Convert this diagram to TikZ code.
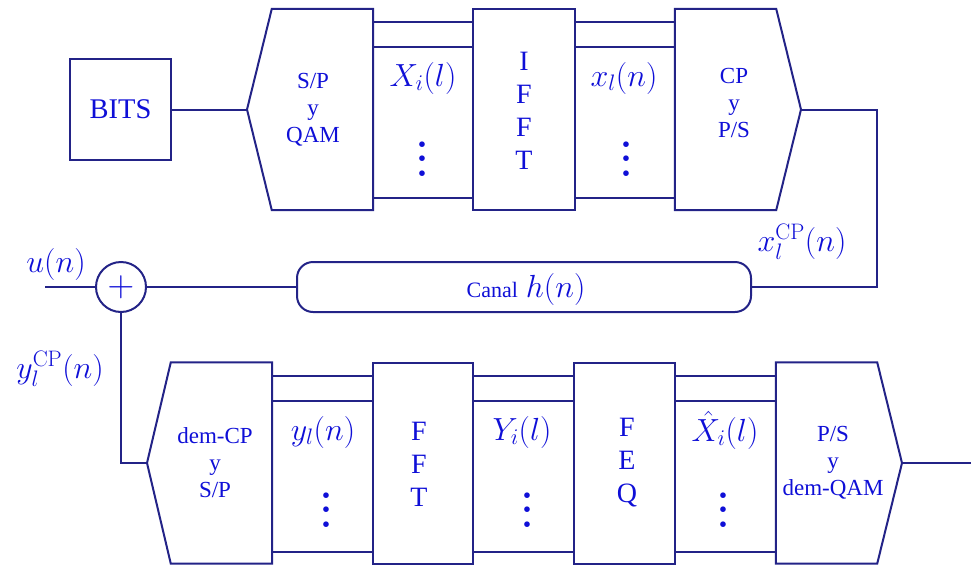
\RequirePackage{fix-cm}
\documentclass[tikz,border=0pt]{standalone}
\usepackage[no-math]{fontspec}
\setmainfont{Liberation Serif}
\definecolor{wirec}{RGB}{35,35,135}
\definecolor{inkc}{RGB}{15,15,215}
% three stacked dots marking the remaining bus lines
\newcommand{\chdots}{\scalebox{3.6}{\usefont{OT1}{cmr}{bx}{n}%
  \vbox{\baselineskip4pt\lineskiplimit0pt\hbox{.}\hbox{.}\hbox{.}}}}
\begin{document}
\begin{tikzpicture}[x=1pt,y=-1pt,
  wire/.style={draw=wirec, line width=2pt},
  blockbox/.style={wire, rectangle, inner sep=0pt, minimum width=#1, minimum height=201pt},
  ghostbox/.style={rectangle, inner sep=0pt, minimum width=#1, minimum height=201pt},
  lbl/.style={text=inkc, inner sep=0pt, align=center},
  small/.style={lbl, font=\fontsize{23}{27}\selectfont},
  tall/.style={lbl, font=\fontsize{28}{33}\selectfont},
  mathlbl/.style={lbl, font=\fontsize{32}{38}\selectfont},
  dotsl/.style={text=inkc, inner sep=0pt, anchor=base}
]
\useasboundingbox (0,0) rectangle (971,565);

% ---------------- transmitter ----------------
\node[wire, rectangle, inner sep=0pt, minimum width=101pt, minimum height=101pt,
      tall, font=\fontsize{28.5}{33}\selectfont] (bits) at (120.5,109.5) {BITS};

\node[ghostbox=101pt] (sp) at (322.5,109.5) {};
\coordinate (sptip) at (247,109.5);
\draw[wire] (sp.north east) -- (sp.north west) -- (sptip) -- (sp.south west)
  -- (sp.south east) -- cycle;

\node[blockbox=102pt] (ifft) at (524,109.5) {};

\node[ghostbox=101pt] (cp) at (725.5,109.5) {};
\coordinate (cptip) at (801,109.5);
\draw[wire] (cp.north west) -- (cp.north east) -- (cptip) -- (cp.south east)
  -- (cp.south west) -- cycle;

% parallel buses
\foreach \yy in {22,47,198} {
  \draw[wire] (sp.east |- 0,\yy) -- (ifft.west |- 0,\yy);
  \draw[wire] (ifft.east |- 0,\yy) -- (cp.west |- 0,\yy);
}

\node[small] (splbl) at (313,110) {S/P\\y\\QAM};
\node[mathlbl] (xil) at (423,78) {$X_i(l)$};
\node[dotsl] (dxi) at (422,176) {\chdots};
\node[tall] (iffttxt) at (524,111) {I\\F\\F\\T};
\node[mathlbl] (xln) at (624,78) {$x_l(n)$};
\node[dotsl] (dxl) at (626,176) {\chdots};
\node[small] (cplbl) at (734,103) {CP\\y\\P/S};

\draw[wire] (bits.east) -- (sptip);

% ---------------- channel ----------------
\node[wire, rectangle, rounded corners=16pt, minimum width=454pt, minimum height=50pt,
      inner sep=0pt] (canal) at (524,287) {};
\node[lbl, font=\fontsize{22}{26}\selectfont] (canaltxt) at (526,289)
  {Canal\hspace{8pt}{\fontsize{32}{38}\selectfont$h(n)$}};
\node[mathlbl] (xcp) at (802,242) {$x_l^{\mathrm{CP}}(n)$};

\draw[wire] (cptip) -- ++(76,0) |- (canal.east);

\node[wire, circle, minimum size=50pt, inner sep=0pt] (adder) at (121,287) {};
\node[lbl, font=\fontsize{37}{40}\selectfont] (plus) at (121,287) {$+$};
\coordinate (uin) at (45,287);
\draw[wire] (uin) -- (adder.west);
\draw[wire] (adder.east) -- (canal.west);
\node[mathlbl] (un) at (56,264) {$u(n)$};
\node[mathlbl] (ycp) at (60,369) {$y_l^{\mathrm{CP}}(n)$};

% ---------------- receiver ----------------
\node[ghostbox=101pt] (dcp) at (221.5,463) {};
\coordinate (dcptip) at (147,463);
\draw[wire] (dcp.north east) -- (dcp.north west) -- (dcptip) -- (dcp.south west)
  -- (dcp.south east) -- cycle;

\node[blockbox=100pt] (fft) at (423,463) {};
\node[blockbox=101pt] (feq) at (624.5,463) {};

\node[ghostbox=101pt] (ps) at (826.5,463) {};
\coordinate (pstip) at (902,463);
\draw[wire] (ps.north west) -- (ps.north east) -- (pstip) -- (ps.south east)
  -- (ps.south west) -- cycle;

\foreach \yy in {375.5,400.5,551.5} {
  \draw[wire] (dcp.east |- 0,\yy) -- (fft.west |- 0,\yy);
  \draw[wire] (fft.east |- 0,\yy) -- (feq.west |- 0,\yy);
  \draw[wire] (feq.east |- 0,\yy) -- (ps.west |- 0,\yy);
}

\node[small] (dcplbl) at (215,463) {dem-CP\\y\\S/P};
\node[mathlbl] (yln) at (323,432) {$y_l(n)$};
\node[dotsl] (dyl) at (326,527) {\chdots};
\node[tall] (ffttxt) at (419,464) {F\\F\\T};
\node[mathlbl] (yil) at (522,432) {$Y_i(l)$};
\node[dotsl] (dyi) at (527,527) {\chdots};
\node[tall] (feqtxt) at (627,463) {F\\E\\Q};
\node[mathlbl] (xhat) at (725,430) {$\hat{X}_i(l)$};
\node[dotsl] (dxh) at (723,527) {\chdots};
\node[small] (pslbl) at (833,463) {P/S\\y\\dem-QAM};

\coordinate (out) at (971,463);
\draw[wire] (adder.south) |- (dcptip);
\draw[wire] (pstip) -- (out);
\end{tikzpicture}
\end{document}
